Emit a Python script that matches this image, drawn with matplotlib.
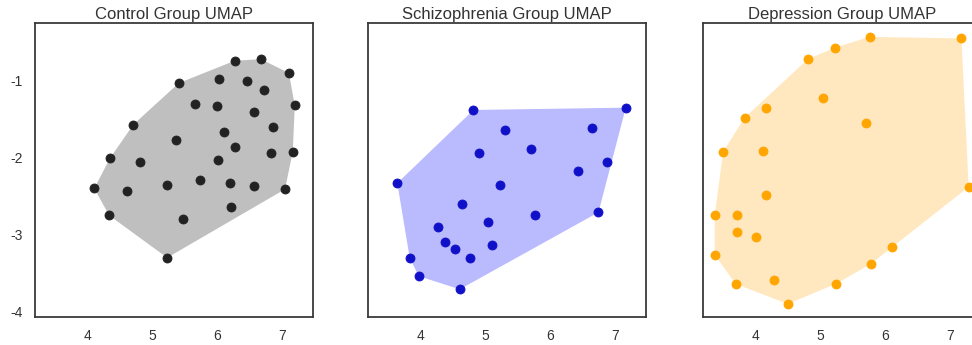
import matplotlib
matplotlib.use("Agg")
import matplotlib.pyplot as plt
import numpy as np

plt.rcParams["font.family"] = ["Liberation Sans", "DejaVu Sans"]
plt.rcParams["axes.unicode_minus"] = False

# UMAP embeddings per group
control_x = [6.27, 6.67, 7.10, 5.41, 6.02, 6.45, 6.71, 5.66, 6.00, 6.57, 7.19, 4.71,
             6.86, 6.11, 5.36, 6.27, 4.35, 4.82, 6.01, 6.83, 7.16, 4.11, 4.62, 5.22,
             5.74, 6.19, 6.57, 7.04, 4.34, 5.47, 6.21, 5.23]
control_y = [-0.74, -0.72, -0.90, -1.03, -0.98, -1.00, -1.12, -1.30, -1.33, -1.41, -1.32, -1.57,
             -1.60, -1.66, -1.77, -1.86, -2.01, -2.06, -2.03, -1.94, -1.92, -2.40, -2.43, -2.36,
             -2.29, -2.33, -2.37, -2.41, -2.75, -2.80, -2.64, -3.30]

schizo_x = [4.82, 7.16, 5.31, 6.64, 5.71, 4.91, 6.87, 6.43, 3.65, 5.22, 4.64,
            6.74, 5.76, 4.27, 5.05, 4.38, 4.53, 5.11, 4.77, 3.84, 3.98, 4.61]
schizo_y = [-1.38, -1.35, -1.64, -1.62, -1.89, -1.94, -2.06, -2.17, -2.33, -2.36, -2.60,
            -2.71, -2.74, -2.90, -2.84, -3.09, -3.19, -3.14, -3.30, -3.30, -3.54, -3.71]

depress_x = [5.76, 7.17, 5.23, 4.81, 5.04, 4.16, 3.84, 5.71, 3.51, 4.12, 4.16, 7.28,
             3.38, 3.72, 3.72, 4.02, 6.10, 5.78, 3.38, 4.29, 3.70, 5.24, 4.50]
depress_y = [-0.43, -0.45, -0.57, -0.72, -1.22, -1.36, -1.48, -1.55, -1.92, -1.91, -2.48, -2.38,
             -2.75, -2.74, -2.97, -3.03, -3.16, -3.38, -3.26, -3.59, -3.64, -3.64, -3.90]

groups = [
    ("Control Group UMAP", control_x, control_y, "#222222", "gray", 0.5),
    ("Schizophrenia Group UMAP", schizo_x, schizo_y, "#1010c8", "blue", 0.27),
    ("Depression Group UMAP", depress_x, depress_y, "#ffa500", "orange", 0.25),
]


def convex_hull(pts):
    pts = sorted(set(pts))
    def cross(o, a, b):
        return (a[0] - o[0]) * (b[1] - o[1]) - (a[1] - o[1]) * (b[0] - o[0])
    lower, upper = [], []
    for p in pts:
        while len(lower) >= 2 and cross(lower[-2], lower[-1], p) <= 0:
            lower.pop()
        lower.append(p)
    for p in reversed(pts):
        while len(upper) >= 2 and cross(upper[-2], upper[-1], p) <= 0:
            upper.pop()
        upper.append(p)
    return np.array(lower[:-1] + upper[:-1])


W, H = 972, 345
fig = plt.figure(figsize=(W / 100, H / 100), dpi=100)

lefts = [35, 368, 703]
for left, (title, xs, ys, pc, fc, alpha) in zip(lefts, groups):
    ax = fig.add_axes([left / W, 1 - 317 / H, 278 / W, 294 / H])
    hull = convex_hull(list(zip(xs, ys)))
    ax.fill(hull[:, 0], hull[:, 1], color=fc, alpha=alpha, lw=0)
    ax.scatter(xs, ys, s=42, color=pc, edgecolors=pc, linewidths=0.6, zorder=3)
    ax.set_xlim(3.2, 7.47)
    ax.set_ylim(-4.07, -0.25)
    ax.set_xticks([4, 5, 6, 7])
    ax.set_yticks([-4, -3, -2, -1])
    ax.tick_params(length=0, pad=9, labelsize=10, colors="#333333")
    if left != lefts[0]:
        ax.set_yticklabels([])
    for sp in ax.spines.values():
        sp.set_color("#3a3a3a")
        sp.set_linewidth(1.3)
    ax.set_title(title, fontsize=12, color="#333333", pad=3)

fig.savefig("out.png", dpi=100)
